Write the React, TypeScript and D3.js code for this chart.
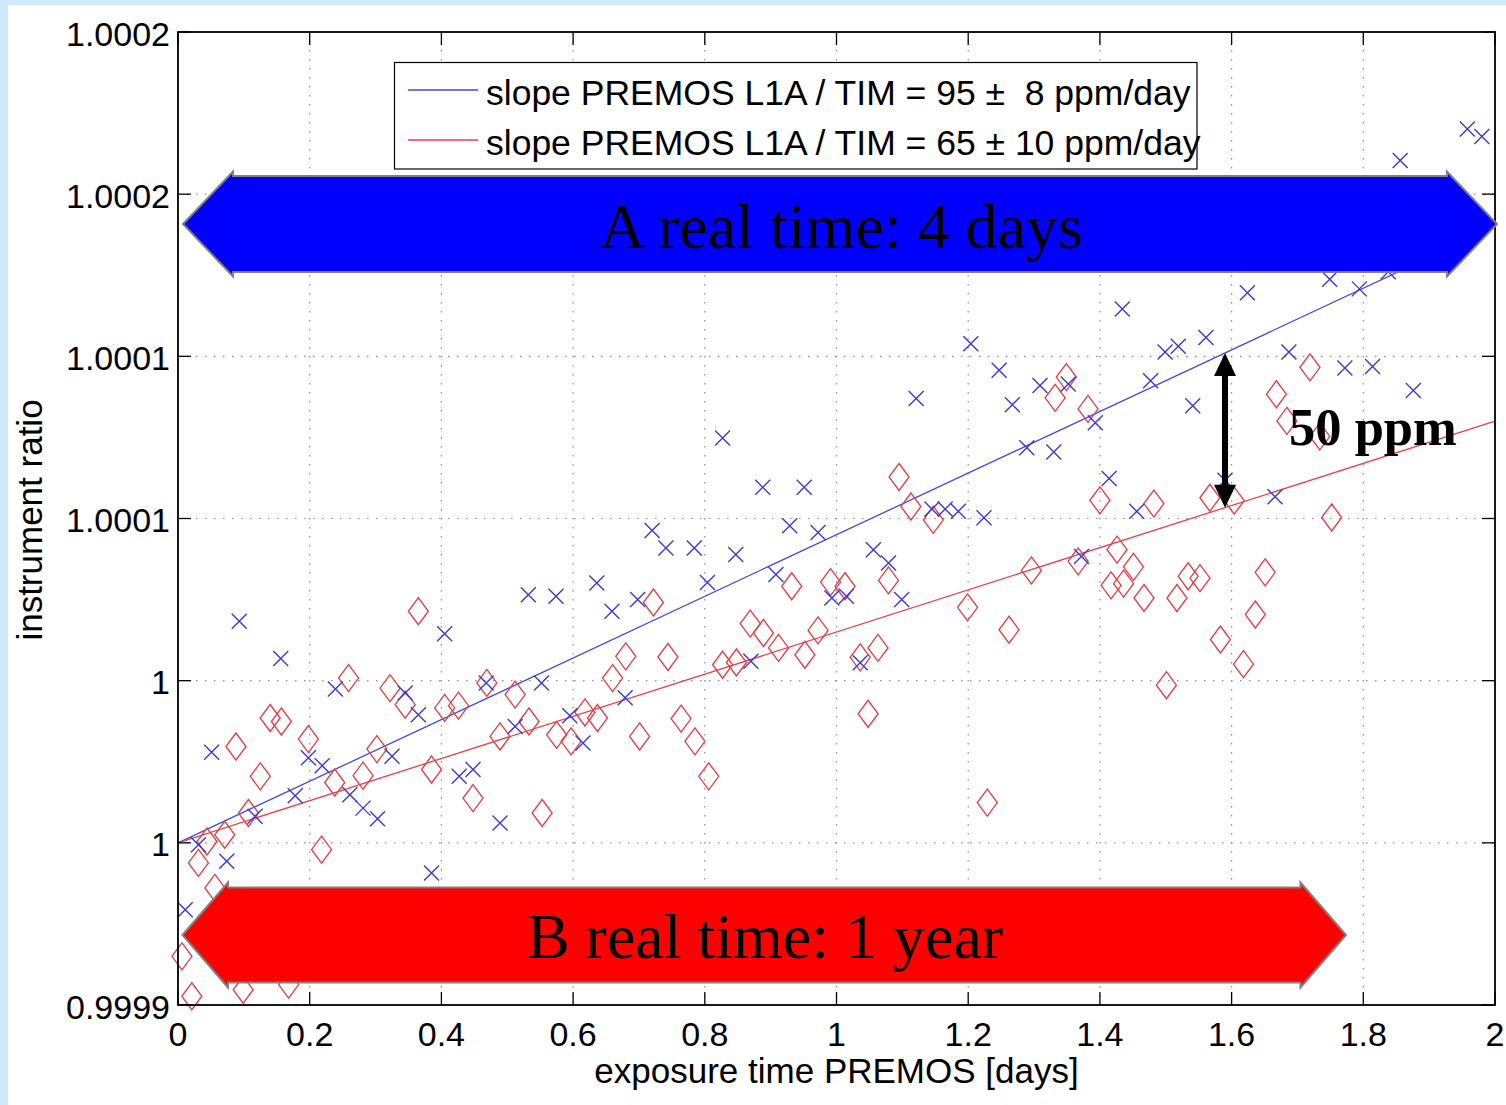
import React from 'react';
import * as d3 from 'd3';

// ---- data ----
const xTickValues = [0, 0.2, 0.4, 0.6, 0.8, 1, 1.2, 1.4, 1.6, 1.8, 2];
const xTickLabels = ['0', '0.2', '0.4', '0.6', '0.8', '1', '1.2', '1.4', '1.6', '1.8', '2'];
// y values are deviations from 1 in ppm
const yTickValues = [-100, -50, 0, 50, 100, 150, 200];
const yTickLabels = ['0.9999', '1', '1', '1.0001', '1.0001', '1.0002', '1.0002'];

// blue crosses: [exposure time (days), ratio deviation (ppm)]
const bluePoints: [number, number][] = [
  [0.093, 18.3], [0.156, 6.8], [0.239, -2.6], [0.051, -22.1], [0.198, -23.8], [0.219, -26.2],
  [0.178, -35.5], [0.117, -41.8], [0.261, -35.2], [0.281, -39.3], [0.303, -42.6], [0.345, -3.8],
  [0.365, -10.5], [0.325, -23.3], [0.405, 14.5], [0.427, -29.5], [0.448, -27.4], [0.489, -43.9],
  [0.468, -0.7], [0.385, -59.3], [0.031, -50.6], [0.074, -55.7], [0.011, -70.6],
  [0.827, 74.8], [0.888, 59.6], [0.951, 59.6], [0.929, 47.8], [0.972, 45.7], [0.72, 46.3],
  [0.741, 40.9], [0.784, 40.9], [0.847, 38.9], [0.636, 30.1], [0.698, 25.0], [0.659, 21.4],
  [0.532, 26.5], [0.574, 26.0], [0.804, 30.3], [0.908, 32.7], [0.552, -0.7], [0.679, -5.3],
  [0.595, -10.8], [0.512, -14.1], [0.615, -19.2], [0.87, 6.0],
  [1.434, 114.6], [1.204, 103.9], [1.247, 95.7], [1.309, 91.0], [1.352, 91.5], [1.267, 85.1],
  [1.121, 87.0], [1.393, 79.5], [1.289, 71.8], [1.33, 70.5], [1.414, 62.3], [1.456, 52.2],
  [1.145, 52.9], [1.165, 52.9], [1.185, 52.2], [1.224, 50.2], [1.056, 40.4], [1.079, 36.3],
  [0.993, 25.5], [1.015, 26.0], [1.099, 25.0], [1.372, 38.3], [1.036, 5.5],
  [1.958, 170.1], [1.98, 167.8], [1.856, 160.4], [1.624, 119.6], [1.749, 123.8], [1.794, 120.8],
  [1.838, 126.1], [1.561, 105.8], [1.519, 103.1], [1.499, 101.3], [1.477, 92.5], [1.541, 84.8],
  [1.687, 101.3], [1.772, 96.4], [1.814, 96.9], [1.876, 89.5], [1.59, 61.8], [1.666, 56.7],
];

// red diamonds
const redPoints: [number, number][] = [
  [0.365, 21.4], [0.259, 0.8], [0.322, -2.3], [0.345, -7.4], [0.469, -0.7], [0.14, -11.5],
  [0.157, -12.6], [0.088, -20.3], [0.198, -18.0], [0.125, -29.5], [0.302, -21.1], [0.281, -29.3],
  [0.238, -31.4], [0.385, -27.4], [0.405, -8.4], [0.426, -7.7], [0.448, -36.2], [0.489, -17.2],
  [0.107, -40.8], [0.071, -47.5], [0.044, -49.6], [0.031, -56.2], [0.218, -52.1], [0.056, -63.9],
  [0.006, -85.0], [0.021, -97.3], [0.099, -95.3], [0.168, -93.7],
  [0.722, 24.1], [0.932, 29.1], [0.869, 17.6], [0.889, 14.7], [0.912, 10.1], [0.952, 8.0],
  [0.972, 15.5], [0.827, 4.9], [0.848, 5.6], [0.68, 7.5], [0.744, 7.3], [0.66, 0.8],
  [0.512, -4.3], [0.533, -12.6], [0.575, -16.7], [0.597, -18.7], [0.618, -9.8], [0.637, -11.5],
  [0.701, -17.2], [0.764, -11.7], [0.785, -18.7], [0.806, -29.5], [0.553, -40.8],
  [1.349, 93.6], [1.332, 87.2], [1.382, 83.8], [1.095, 62.8], [1.113, 53.7], [1.147, 49.6],
  [1.4, 55.6], [1.482, 54.6], [0.991, 30.4], [1.013, 29.1], [1.079, 30.9], [1.036, 7.2],
  [1.063, 10.1], [1.048, -10.2], [1.199, 22.6], [1.262, 15.7], [1.296, 34.0], [1.367, 36.8],
  [1.426, 40.4], [1.451, 35.1], [1.417, 29.4], [1.436, 29.9], [1.467, 25.5], [1.229, -37.6],
  [1.719, 96.6], [1.668, 88.3], [1.684, 80.1], [1.734, 75.3], [1.567, 56.4], [1.604, 55.5],
  [1.752, 50.3], [1.517, 25.5], [1.534, 32.2], [1.552, 31.6], [1.651, 33.4], [1.636, 20.4],
  [1.583, 12.7], [1.618, 5.1], [1.501, -1.4],
];

// linear fits (ppm at x=0, ppm/day)
const fitIntercepts = [-50, -50];
const fitSlopes = [95, 65];
const fitRange = [0, 2];
const legendLabels = [
  'slope PREMOS L1A / TIM = 95 \u00b1  8 ppm/day',
  'slope PREMOS L1A / TIM = 65 \u00b1 10 ppm/day',
];
const arrowAText = 'A real time: 4 days';
const arrowBText = 'B real time: 1 year';
const diffText = '50 ppm';
const diffAtX = 1.59;

// ---- layout ----
const W = 1506;
const H = 1105;
const L = 178, R = 1495, T = 32, B = 1005;
const SANS = '"Liberation Sans", Arial, Helvetica, sans-serif';
const SERIF = '"Liberation Serif", "Times New Roman", Times, serif';
const BLUE_M = '#3a3ad4';
const RED_M = '#e0464c';
const BLUE_L = '#4646e0';
const RED_L = '#e8424a';

function doubleArrow(x0: number, x1: number, cy: number, bh: number, hh: number, hl: number) {
  return [
    [x0, cy], [x0 + hl, cy - hh], [x0 + hl, cy - bh], [x1 - hl, cy - bh], [x1 - hl, cy - hh],
    [x1, cy], [x1 - hl, cy + hh], [x1 - hl, cy + bh], [x0 + hl, cy + bh], [x0 + hl, cy + hh],
  ].map(p => p.join(',')).join(' ');
}

export default function App() {
  const x = d3.scaleLinear().domain([0, 2]).range([L, R]);
  const y = d3.scaleLinear().domain([-100, 200]).range([B, T]);
  const tickLen = 13;
  const colors = [BLUE_L, RED_L];

  const diffPx = x(diffAtX);
  const diffTop = y(fitIntercepts[0] + fitSlopes[0] * diffAtX);
  const diffBot = y(fitIntercepts[1] + fitSlopes[1] * diffAtX);
  const ah = 23, aw = 11, sw = 3;

  return (
    <svg width={W} height={H} style={{ position: 'absolute', left: 0, top: 0, display: 'block' }}>
      <rect x={0} y={0} width={W} height={H} fill="#ffffff" />
      <rect x={0} y={0} width={W} height={5} fill="#cfe9fc" />
      <rect x={0} y={0} width={8} height={H} fill="#cfe9fc" />

      {/* grid */}
      <g stroke="#8c8c8c" strokeWidth={1.2} strokeDasharray="1.5 7.5">
        {xTickValues.filter((v, i) => i > 0 && i < xTickValues.length - 1).map(v => (
          <line key={'gx' + v} x1={x(v)} x2={x(v)} y1={T} y2={B} />
        ))}
        {yTickValues.filter((v, i) => i > 0 && i < yTickValues.length - 1).map(v => (
          <line key={'gy' + v} x1={L} x2={R} y1={y(v)} y2={y(v)} />
        ))}
      </g>

      {/* fit lines */}
      {fitSlopes.map((s, i) => (
        <line key={'fit' + i}
          x1={x(fitRange[0])} y1={y(fitIntercepts[i] + s * fitRange[0])}
          x2={x(fitRange[1])} y2={y(fitIntercepts[i] + s * fitRange[1])}
          stroke={colors[i]} strokeWidth={1.3} />
      ))}

      {/* markers */}
      <g fill="none" stroke={RED_M} strokeWidth={1.4}>
        {redPoints.map((p, i) => (
          <path key={'r' + i} transform={`translate(${x(p[0])},${y(p[1])})`} d="M0,-13.5L10,0L0,13.5L-10,0Z" />
        ))}
      </g>
      <g fill="none" stroke={BLUE_M} strokeWidth={1.4}>
        {bluePoints.map((p, i) => (
          <path key={'b' + i} transform={`translate(${x(p[0])},${y(p[1])})`} d="M-7.5,-7.5L7.5,7.5M-7.5,7.5L7.5,-7.5" />
        ))}
      </g>

      {/* axes box and ticks */}
      <rect x={L} y={T} width={R - L} height={B - T} fill="none" stroke="#000" strokeWidth={1.8} />
      <g stroke="#000" strokeWidth={1.3}>
        {xTickValues.map(v => (
          <g key={'tx' + v}>
            <line x1={x(v)} x2={x(v)} y1={B} y2={B - tickLen} />
            <line x1={x(v)} x2={x(v)} y1={T} y2={T + tickLen} />
          </g>
        ))}
        {yTickValues.map(v => (
          <g key={'ty' + v}>
            <line x1={L} x2={L + tickLen} y1={y(v)} y2={y(v)} />
            <line x1={R} x2={R - tickLen} y1={y(v)} y2={y(v)} />
          </g>
        ))}
      </g>
      <g fontFamily={SANS} fontSize={34} fill="#000">
        {xTickValues.map((v, i) => (
          <text key={'lx' + v} x={x(v)} y={1046} textAnchor="middle">{xTickLabels[i]}</text>
        ))}
        {yTickValues.map((v, i) => (
          <text key={'ly' + v} x={170} y={y(v) + 13.5} textAnchor="end">{yTickLabels[i]}</text>
        ))}
      </g>
      <text x={(L + R) / 2} y={1083} textAnchor="middle" fontFamily={SANS} fontSize={35}>exposure time PREMOS [days]</text>
      <text transform="translate(42,520) rotate(-90)" textAnchor="middle" fontFamily={SANS} fontSize={35}>instrument ratio</text>

      {/* legend */}
      <rect x={394.5} y={62.5} width={802.5} height={106.5} fill="#fff" stroke="#000" strokeWidth={1.2} />
      {legendLabels.map((lab, i) => (
        <g key={'lg' + i}>
          <line x1={408} x2={478} y1={90 + i * 50} y2={90 + i * 50} stroke={colors[i]} strokeWidth={1.3} />
          <text x={486} y={105 + i * 50} fontFamily={SANS} fontSize={35.5} xmlSpace="preserve" style={{ whiteSpace: 'pre' }}>{lab}</text>
        </g>
      ))}

      {/* annotation arrows */}
      <polygon points={doubleArrow(183, 1497, 224, 48, 52.5, 50)} fill="#0000ff" stroke="#808080" strokeWidth={2} />
      <text x={841} y={248} textAnchor="middle" fontFamily={SERIF} fontSize={64}>{arrowAText}</text>
      <polygon points={doubleArrow(182.5, 1346, 935, 47.5, 52.5, 45.5)} fill="#ff0000" stroke="#808080" strokeWidth={2} />
      <text x={765} y={958} textAnchor="middle" fontFamily={SERIF} fontSize={64}>{arrowBText}</text>

      {/* 50 ppm double arrow */}
      <polygon fill="#000" points={[
        [diffPx, diffTop], [diffPx + aw, diffTop + ah], [diffPx + sw, diffTop + ah], [diffPx + sw, diffBot - ah],
        [diffPx + aw, diffBot - ah], [diffPx, diffBot], [diffPx - aw, diffBot - ah], [diffPx - sw, diffBot - ah],
        [diffPx - sw, diffTop + ah], [diffPx - aw, diffTop + ah],
      ].map(p => p.join(',')).join(' ')} />
      <text x={1289} y={445} fontFamily={SERIF} fontWeight="bold" fontSize={52.5}>{diffText}</text>
    </svg>
  );
}
